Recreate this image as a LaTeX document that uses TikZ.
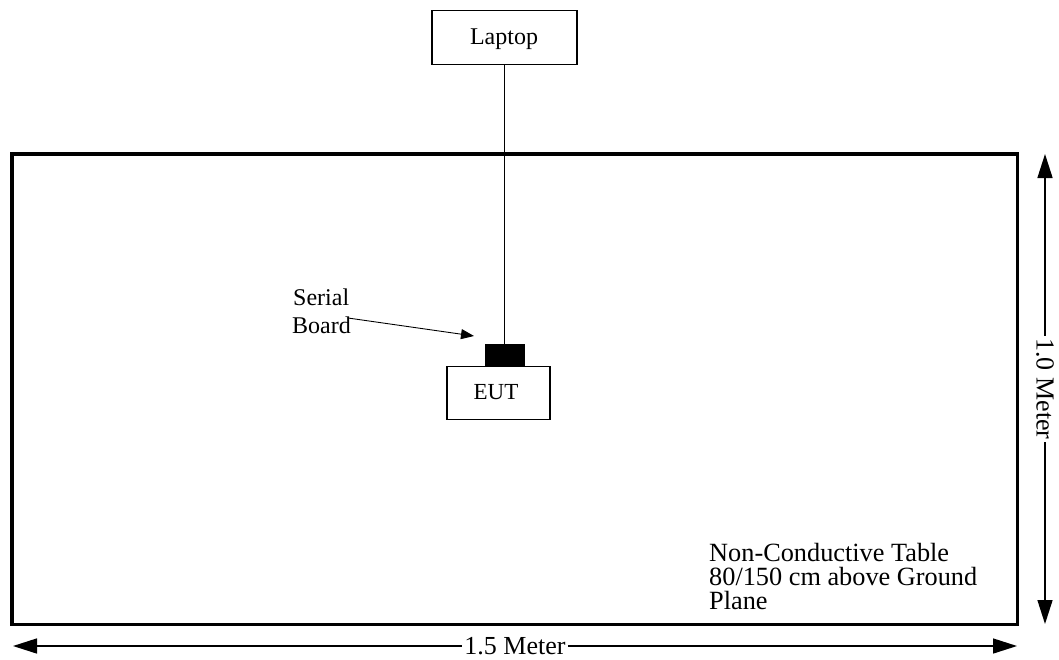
\documentclass[tikz,border=0pt]{standalone}
\usepackage{fontspec}
\setmainfont{Liberation Serif}
\usetikzlibrary{arrows.meta}
\tikzset{
  box/.style={draw, line width=1.3pt, inner sep=0pt},
  lbl/.style={inner sep=0pt, font=\fontsize{24}{28}\selectfont},
  dim/.style={line width=1.5pt, {Triangle[length=24pt,width=15pt]}-{Triangle[length=24pt,width=15pt]}},
  dimlbl/.style={fill=white, inner sep=2pt, font=\fontsize{26}{30}\selectfont},
}
\begin{document}
\begin{tikzpicture}[x=1pt,y=-1pt]
\useasboundingbox (0,0) rectangle (1059,659);
% table
\draw[line width=3.5pt] (12,154) rectangle (1017.5,624.5);
% laptop
\node[box, minimum width=145pt, minimum height=54pt] (laptop) at (504.5,37.5) {};
\node[lbl, anchor=base] (laptoptxt) at (504,44.5) {Laptop};
% serial board
\node[fill=black, draw=black, inner sep=0pt, minimum width=39pt, minimum height=22pt] (board) at (504.5,355) {};
% EUT
\node[box, minimum width=103pt, minimum height=53pt, anchor=north] (eut) at (498.5,366) {};
\node[lbl, anchor=base, font=\fontsize{23}{27}\selectfont] (euttxt) at (496,399) {EUT};
% laptop cable
\draw[line width=0.9pt] (laptop.south -| board.north) -- (board.north);
% serial board label
\node[lbl, anchor=base west] (serial) at (293,305) {Serial};
\node[lbl, anchor=base west] (boardlbl) at (292,333) {Board};
\coordinate (sbstart) at (348,318);
\draw[line width=0.9pt, -{Triangle[length=13pt,width=10pt]}] (sbstart) -- (474,336);
% table label
\node[lbl, anchor=base west, font=\fontsize{26.3}{28}\selectfont] (t1) at (709,561) {Non-Conductive Table};
\node[lbl, anchor=base west, font=\fontsize{26.3}{28}\selectfont] (t2) at (709,585) {80/150 cm above Ground};
\node[lbl, anchor=base west, font=\fontsize{26.3}{28}\selectfont] (t3) at (709,609) {Plane};
% dimension arrows
\coordinate (hl) at (13,646);
\coordinate (hr) at (1017,646);
\draw[dim] (hl) -- (hr);
\node[dimlbl] (hlbl) at (515,646) {1.5 Meter};
\coordinate (vt) at (1045,154);
\coordinate (vb) at (1045,624);
\draw[dim] (vt) -- (vb);
\node[dimlbl, rotate=-90] (vlbl) at (1045,389) {1.0 Meter};
\end{tikzpicture}
\end{document}
